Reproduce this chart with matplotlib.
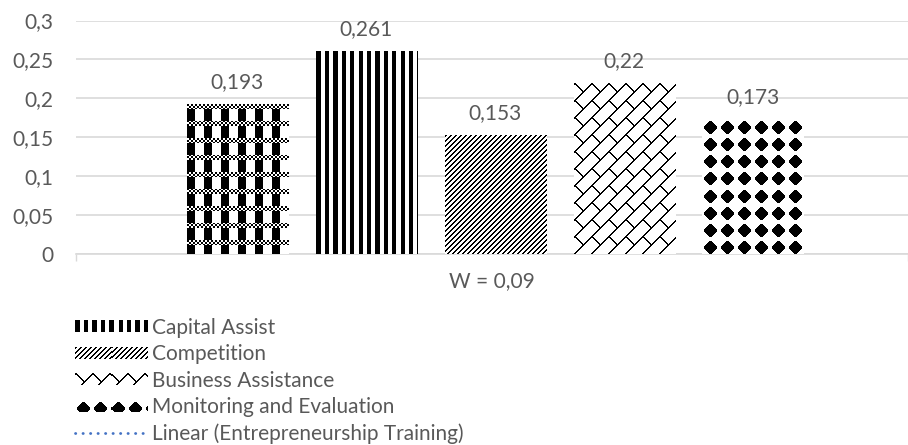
import matplotlib
matplotlib.use("Agg")
import matplotlib.pyplot as plt
import numpy as np
from matplotlib.image import BboxImage
from matplotlib.legend_handler import HandlerBase
from matplotlib.lines import Line2D
from matplotlib.patches import Rectangle
from matplotlib.transforms import Bbox, TransformedBbox

plt.rcParams["font.family"] = ["Lato", "DejaVu Sans"]

category = "W = 0,09"
series = ["Entrepreneurship Training", "Capital Assist", "Competition",
          "Business Assistance", "Monitoring and Evaluation"]
values = [0.193, 0.261, 0.153, 0.22, 0.173]
yticks = [0, 0.05, 0.1, 0.15, 0.2, 0.25, 0.3]
ytick_labels = ["0", "0,05", "0,1", "0,15", "0,2", "0,25", "0,3"]
legend_labels = ["Capital Assist", "Competition", "Business Assistance",
                 "Monitoring and Evaluation", "Linear (Entrepreneurship Training)"]

TEXT = "#595959"
GRID = "#d9d9d9"
TREND = "#4472c4"


# fill patterns, True = black pixel
def plaid(h, w):
    y, x = np.mgrid[0:h, 0:w]
    band = (y % 17) < 5
    checker = ((x // 2 + y // 2) % 2) == 0
    cols = (x % 17) < 8
    return np.where(band, checker, cols)


def stripes(h, w):
    y, x = np.mgrid[0:h, 0:w]
    return (x % 8.4) < 4.2


def diagonal(h, w):
    y, x = np.mgrid[0:h, 0:w]
    return ((x + y) % 5) < 2


def brick(h, w):
    y, x = np.mgrid[0:h, 0:w]
    u = x + y
    v = x - y + 17 * ((u // 17) % 2)
    return ((u % 17) < 1.5) | ((v % 34) < 1.5)


def diamonds(h, w):
    y, x = np.mgrid[0:h, 0:w]
    dx = np.abs((x % 17) - 8)
    dy = np.abs((y % 17) - 8)
    return ((dx + dy) <= 7) & (np.maximum(dx, dy) <= 6)


patterns = [plaid, stripes, diagonal, brick, diamonds]


def to_rgb(mask):
    g = np.where(mask, 0.0, 1.0)
    return np.dstack([g, g, g])


class PatternHandler(HandlerBase):
    def __init__(self, pattern):
        super().__init__()
        self.pattern = pattern

    def create_artists(self, legend, orig_handle, xdescent, ydescent,
                       width, height, fontsize, trans):
        sh = height * 0.82
        bb = Bbox.from_bounds(-xdescent, -ydescent + (height - sh) / 2, width, sh)
        img = BboxImage(TransformedBbox(bb, trans), interpolation="nearest")
        img.set_data(to_rgb(self.pattern(12, 72)))
        return [img]


W, H = 908, 445
fig = plt.figure(figsize=(W / 100, H / 100), dpi=100)
ax_l, ax_r, ax_t, ax_b = 76, 908, 20.5, 253.5
ax = fig.add_axes([ax_l / W, 1 - ax_b / H, (ax_r - ax_l) / W, (ax_b - ax_t) / H])
ax.set_xlim(-0.5, 0.5)
ax.set_ylim(0, 0.3)
px_x = (ax_r - ax_l) / 1.0
px_y = (ax_b - ax_t) / 0.3

bar_w = 0.122
step = 0.155
center = 0.004
xs = [center + (i - 2) * step for i in range(len(values))]
bars = ax.bar(xs, values, width=bar_w, color="none", edgecolor="none", zorder=3)

for bar, pat in zip(bars, patterns):
    x0, w, h = bar.get_x(), bar.get_width(), bar.get_height()
    npx_w = int(round(w * px_x))
    npx_h = int(round(h * px_y))
    ax.imshow(to_rgb(pat(npx_h, npx_w)), extent=(x0, x0 + w, 0, h),
              interpolation="nearest", aspect="auto", zorder=3)

for x, v in zip(xs, values):
    ax.annotate(f"{v:g}".replace(".", ","), (x, v), xytext=(0, 11.5),
                textcoords="offset points", ha="center", va="baseline",
                fontsize=15, color=TEXT)

ax.set_xlim(-0.5, 0.5)
ax.set_ylim(0, 0.3)
ax.set_yticks(yticks)
ax.set_yticklabels(ytick_labels)
ax.set_xticks([0])
ax.set_xticklabels([category])
ax.set_xticks([-0.5, 0.5], minor=True)
ax.tick_params(axis="y", length=0, pad=16, labelsize=15, labelcolor=TEXT)
ax.tick_params(axis="x", which="major", length=0, pad=13, labelsize=15, labelcolor=TEXT)
ax.tick_params(axis="x", which="minor", length=5, width=1, color=GRID, direction="out")
ax.grid(axis="y", color=GRID, linewidth=1.2, zorder=0)
ax.set_axisbelow(True)
for side in ["top", "right", "left"]:
    ax.spines[side].set_visible(False)
ax.spines["bottom"].set_color(GRID)
ax.spines["bottom"].set_linewidth(1.2)

handles = [Rectangle((0, 0), 1, 1) for _ in range(4)]
handles.append(Line2D([], [], color=TREND, linewidth=2.0, linestyle=(0, (0.1, 2.6)),
                      dash_capstyle="round"))
hmap = {h: PatternHandler(p) for h, p in zip(handles[:4], patterns[1:])}
fig.legend(handles, legend_labels, handler_map=hmap, loc="center left",
           bbox_to_anchor=(75 / W, 1 - 381 / H), frameon=False, fontsize=15,
           labelcolor=TEXT, handlelength=52 / 15, handletextpad=0.25,
           labelspacing=0.31, borderpad=0, borderaxespad=0)

fig.savefig("out.png", dpi=100)
